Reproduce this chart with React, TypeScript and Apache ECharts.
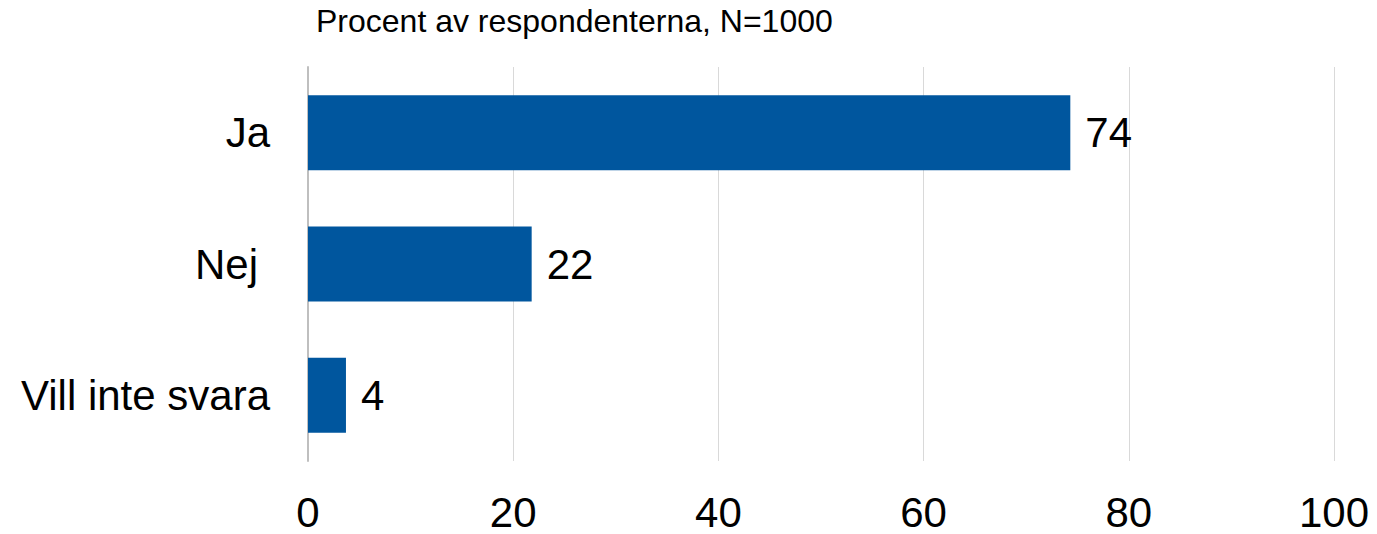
import React, { useEffect, useRef } from "react";
import * as echarts from "echarts";

const categories = ["Ja", "Nej", "Vill inte svara"];
const values = [74.3, 21.8, 3.7];
const xTicks = [0, 20, 40, 60, 80, 100];
const titleText = "Procent av respondenterna, N=1000";

export default function App() {
  const ref = useRef<HTMLDivElement>(null);
  useEffect(() => {
    document.body.style.margin = "0";
    const chart = echarts.init(ref.current!, null, { renderer: "svg" });
    const font = "'Liberation Sans', Arial, sans-serif";
    chart.setOption({
      animation: false,
      backgroundColor: "#ffffff",
      textStyle: { fontFamily: font },
      title: {
        text: titleText,
        left: 316,
        top: 5,
        padding: 0,
        textStyle: { fontFamily: font, fontSize: 32, fontWeight: "normal", color: "#000000" },
      },
      grid: { left: 308, right: 43, top: 67, bottom: 73, containLabel: false },
      xAxis: {
        type: "value",
        min: xTicks[0],
        max: xTicks[xTicks.length - 1],
        interval: 20,
        axisLine: { show: false },
        axisTick: { show: false },
        axisLabel: { fontSize: 42, color: "#000000", margin: 30, fontFamily: font },
        splitLine: { show: true, lineStyle: { color: "#D9D9D9", width: 1 } },
      },
      yAxis: {
        type: "category",
        inverse: true,
        data: categories.map((c) =>
          c === "Nej" ? { value: c, textStyle: { padding: [0, 12, 0, 0] } } : c
        ),
        axisLine: { show: true, lineStyle: { color: "#BFBFBF", width: 2 } },
        axisTick: { show: false },
        axisLabel: { fontSize: 42, color: "#000000", margin: 38, fontFamily: font },
        splitLine: { show: false },
      },
      series: [
        {
          type: "bar",
          data: values,
          barWidth: 75,
          itemStyle: { color: "#00569E" },
          label: {
            show: true,
            position: "right",
            distance: 15,
            fontSize: 42,
            color: "#000000",
            fontFamily: font,
            formatter: (p: any) => String(Math.round(p.value)),
          },
        },
      ],
    });
    return () => chart.dispose();
  }, []);
  return <div ref={ref} style={{ width: 1377, height: 534 }} />;
}
